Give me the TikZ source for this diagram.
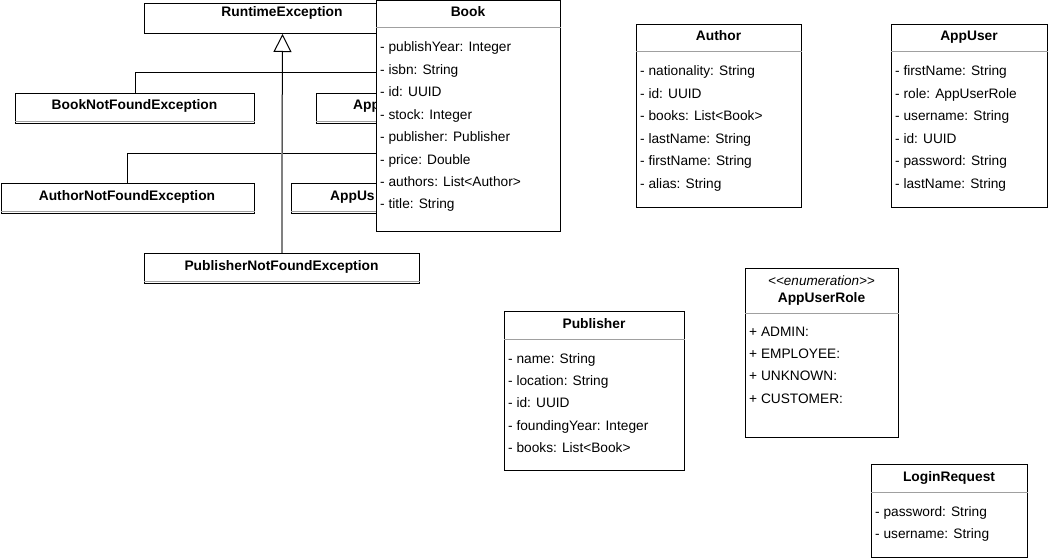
\documentclass[tikz,border=0pt]{standalone}
\usepackage{fontspec}
\setmainfont{Liberation Sans}
\usetikzlibrary{arrows.meta}
\definecolor{sepgray}{HTML}{A0A0A0}
\definecolor{linkgray}{HTML}{808080}
\tikzset{
  cbox/.style={draw=black, fill=white, line width=1pt, rectangle, inner sep=0pt, anchor=north west},
  ctitle/.style={font=\fontsize{13.8pt}{15pt}\selectfont\bfseries, inner sep=0pt, anchor=base},
  cstereo/.style={font=\fontsize{13.5pt}{15pt}\selectfont\itshape, inner sep=0pt, anchor=base},
  cattr/.style={font=\fontsize{13.7pt}{15pt}\selectfont, inner sep=0pt, anchor=base west},
  csep/.style={draw=sepgray, line width=1pt},
  edge/.style={draw=black, line width=1pt},
  graylink/.style={draw=linkgray, line width=2pt},
  inherit/.style={-{Triangle[open, length=18pt, width=18pt, line width=1pt]}, fill=white},
}
\begin{document}
\begin{tikzpicture}[x=1pt, y=-1pt]
\useasboundingbox (0,0) rectangle (1048,559);

% ---------- exception hierarchy ----------
\node[cbox, minimum width=276pt, minimum height=30pt] (rt) at (144,3) {};
\node[ctitle] (rtT) at (282,17) {RuntimeException};

\node[cbox, minimum width=239pt, minimum height=30pt] (bnf) at (15,93) {};
\node[ctitle] (bnfT) at (134.5,110) {BookNotFoundException};
\draw[csep] (bnf.west |- 0,121.5) -- (bnf.east |- 0,121.5);

\node[cbox, minimum width=239pt, minimum height=30pt] (a1) at (316,93) {};
\node[ctitle, anchor=base west] (a1T) at (353,110) {App};
\draw[csep] (a1.west |- 0,121.5) -- (a1.east |- 0,121.5);

\node[cbox, minimum width=253.5pt, minimum height=30pt] (anf) at (0.5,183) {};
\node[ctitle] (anfT) at (127,200) {AuthorNotFoundException};
\draw[csep] (anf.west |- 0,211.5) -- (anf.east |- 0,211.5);

\node[cbox, minimum width=254pt, minimum height=30pt] (a2) at (291,183) {};
\node[ctitle, anchor=base west] (a2T) at (330,200) {AppUs};
\draw[csep] (a2.west |- 0,211.5) -- (a2.east |- 0,211.5);

\node[cbox, minimum width=275pt, minimum height=30pt] (pnf) at (144,253) {};
\node[ctitle] (pnfT) at (281.5,270) {PublisherNotFoundException};
\draw[csep] (pnf.west |- 0,281.5) -- (pnf.east |- 0,281.5);

% generalisation links
\coordinate (j1) at (282,73);
\coordinate (j2) at (282,153);
\draw[edge] (bnf.north) |- (j1);
\draw[edge] (a1.north) |- (j1);
\draw[edge] (anf.north) |- (j2);
\draw[edge] (a2.north) |- (j2);
\draw[graylink] (pnf.north) -- (j2);
\draw[edge, inherit] (j2) -- (rt.south);

% ---------- Book ----------
\node[cbox, minimum width=184pt, minimum height=231pt] (book) at (376,0) {};
\node[ctitle] (bookT) at (468,17) {Book};
\draw[csep] (book.west |- 0,28) -- (book.east |- 0,28);
\foreach \t [count=\i] in {- publishYear: Integer, - isbn: String, - id: UUID, - stock: Integer, - publisher: Publisher, - price: Double, - authors: List<Author>, - title: String}
  \node[cattr] (book-\i) at ({380},{52+22.4*(\i-1)}) {\t};

% ---------- Author ----------
\node[cbox, minimum width=165pt, minimum height=183pt] (author) at (636,24) {};
\node[ctitle] (authorT) at (718.5,41) {Author};
\draw[csep] (author.west |- 0,52) -- (author.east |- 0,52);
\foreach \t [count=\i] in {- nationality: String, - id: UUID, - books: List<Book>, - lastName: String, - firstName: String, - alias: String}
  \node[cattr] (author-\i) at ({640},{76+22.4*(\i-1)}) {\t};

% ---------- AppUser ----------
\node[cbox, minimum width=156pt, minimum height=183pt] (appuser) at (891,24) {};
\node[ctitle] (appuserT) at (969,41) {AppUser};
\draw[csep] (appuser.west |- 0,52) -- (appuser.east |- 0,52);
\foreach \t [count=\i] in {- firstName: String, - role: AppUserRole, - username: String, - id: UUID, - password: String, - lastName: String}
  \node[cattr] (appuser-\i) at ({895},{76+22.4*(\i-1)}) {\t};

% ---------- AppUserRole ----------
\node[cbox, minimum width=153pt, minimum height=169pt] (role) at (745,268) {};
\node[cstereo] (roleS) at (821.5,285) {<{}<enumeration>{}>};
\node[ctitle] (roleT) at (821.5,302) {AppUserRole};
\draw[csep] (role.west |- 0,313) -- (role.east |- 0,313);
\foreach \t [count=\i] in {+ ADMIN:, + EMPLOYEE:, + UNKNOWN:, + CUSTOMER:}
  \node[cattr] (role-\i) at ({749},{336+22.4*(\i-1)}) {\t};

% ---------- Publisher ----------
\node[cbox, minimum width=180pt, minimum height=159pt] (publisher) at (504,311) {};
\node[ctitle] (publisherT) at (594,328) {Publisher};
\draw[csep] (publisher.west |- 0,339) -- (publisher.east |- 0,339);
\foreach \t [count=\i] in {- name: String, - location: String, - id: UUID, - foundingYear: Integer, - books: List<Book>}
  \node[cattr] (publisher-\i) at ({508},{363+22.4*(\i-1)}) {\t};

% ---------- LoginRequest ----------
\node[cbox, minimum width=156pt, minimum height=93pt] (login) at (871,464) {};
\node[ctitle] (loginT) at (949,481) {LoginRequest};
\draw[csep] (login.west |- 0,492) -- (login.east |- 0,492);
\foreach \t [count=\i] in {- password: String, - username: String}
  \node[cattr] (login-\i) at ({875},{516+22.4*(\i-1)}) {\t};
\end{tikzpicture}
\end{document}
